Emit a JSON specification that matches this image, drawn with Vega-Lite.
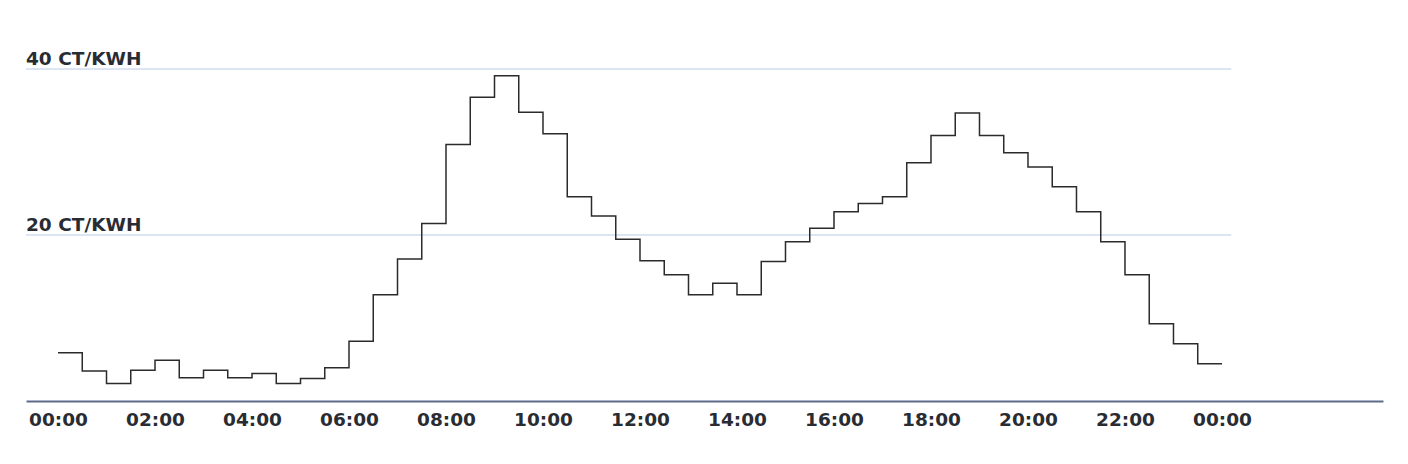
{
  "$schema": "https://vega.github.io/schema/vega-lite/v6.json",
  "width": 1357,
  "height": 332,
  "autosize": {"type": "none"},
  "padding": {"left": 26, "top": 69, "right": 25, "bottom": 63},
  "background": "#ffffff",
  "config": {
    "view": {"stroke": null},
    "axis": {
      "labelFont": "DejaVu Sans",
      "labelFontWeight": "bold",
      "labelFontSize": 18.5,
      "labelColor": "#2a2c33",
      "domainColor": "#5d6b8a",
      "domainWidth": 2,
      "ticks": false,
      "tickSize": 0,
      "grid": false,
      "labelFlush": false,
      "labelOverlap": false,
      "labelBound": false
    }
  },
  "datasets": {
    "prices": [
      {"hour": 0, "price": 5.8}, {"hour": 0.5, "price": 3.6}, {"hour": 1, "price": 2.1}, {"hour": 1.5, "price": 3.7},
      {"hour": 2, "price": 4.9}, {"hour": 2.5, "price": 2.8}, {"hour": 3, "price": 3.7}, {"hour": 3.5, "price": 2.8},
      {"hour": 4, "price": 3.3}, {"hour": 4.5, "price": 2.1}, {"hour": 5, "price": 2.7}, {"hour": 5.5, "price": 4.0},
      {"hour": 6, "price": 7.2}, {"hour": 6.5, "price": 12.8}, {"hour": 7, "price": 17.1}, {"hour": 7.5, "price": 21.4},
      {"hour": 8, "price": 30.9}, {"hour": 8.5, "price": 36.6}, {"hour": 9, "price": 39.2}, {"hour": 9.5, "price": 34.8},
      {"hour": 10, "price": 32.2}, {"hour": 10.5, "price": 24.6}, {"hour": 11, "price": 22.3}, {"hour": 11.5, "price": 19.5},
      {"hour": 12, "price": 16.9}, {"hour": 12.5, "price": 15.2}, {"hour": 13, "price": 12.8}, {"hour": 13.5, "price": 14.2},
      {"hour": 14, "price": 12.8}, {"hour": 14.5, "price": 16.8}, {"hour": 15, "price": 19.2}, {"hour": 15.5, "price": 20.8},
      {"hour": 16, "price": 22.8}, {"hour": 16.5, "price": 23.8}, {"hour": 17, "price": 24.6}, {"hour": 17.5, "price": 28.7},
      {"hour": 18, "price": 32.0}, {"hour": 18.5, "price": 34.7}, {"hour": 19, "price": 32.0}, {"hour": 19.5, "price": 29.9},
      {"hour": 20, "price": 28.2}, {"hour": 20.5, "price": 25.8}, {"hour": 21, "price": 22.8}, {"hour": 21.5, "price": 19.2},
      {"hour": 22, "price": 15.2}, {"hour": 22.5, "price": 9.3}, {"hour": 23, "price": 6.9}, {"hour": 23.5, "price": 4.5},
      {"hour": 24, "price": 4.5}
    ],
    "grid": [
      {"v": 20, "label": "20 CT/KWH"},
      {"v": 40, "label": "40 CT/KWH"}
    ]
  },
  "layer": [
    {
      "data": {"name": "grid"},
      "mark": {"type": "rule", "color": "#dde4f3", "strokeWidth": 2},
      "encoding": {
        "x": {
          "datum": -0.66,
          "type": "quantitative",
          "scale": {"domain": [-0.66, 27.32], "nice": false, "zero": false},
          "axis": {
            "title": null,
            "values": [0, 2, 4, 6, 8, 10, 12, 14, 16, 18, 20, 22, 24],
            "labelExpr": "(datum.value % 24 < 10 ? '0' : '') + (datum.value % 24) + ':00'",
            "labelBaseline": "alphabetic",
            "labelPadding": 24
          }
        },
        "x2": {"datum": 24.19},
        "y": {"field": "v", "type": "quantitative", "scale": {"domain": [0, 40], "nice": false}, "axis": null}
      }
    },
    {
      "data": {"name": "prices"},
      "mark": {"type": "line", "interpolate": "step-after", "color": "#2b2b2b", "strokeWidth": 1.5},
      "encoding": {
        "x": {
          "field": "hour",
          "type": "quantitative",
          "scale": {"domain": [-0.66, 27.32], "nice": false, "zero": false},
          "axis": {
            "title": null,
            "values": [0, 2, 4, 6, 8, 10, 12, 14, 16, 18, 20, 22, 24],
            "labelExpr": "(datum.value % 24 < 10 ? '0' : '') + (datum.value % 24) + ':00'",
            "labelBaseline": "alphabetic",
            "labelPadding": 24
          }
        },
        "y": {
          "field": "price",
          "type": "quantitative",
          "scale": {"domain": [0, 40], "nice": false},
          "axis": null
        }
      }
    },
    {
      "data": {"name": "grid"},
      "mark": {
        "type": "text",
        "align": "left",
        "baseline": "alphabetic",
        "dy": -4,
        "font": "DejaVu Sans",
        "fontWeight": "bold",
        "fontSize": 18.5,
        "color": "#2a2c33"
      },
      "encoding": {
        "x": {
          "datum": -0.66,
          "type": "quantitative",
          "axis": {
            "title": null,
            "values": [0, 2, 4, 6, 8, 10, 12, 14, 16, 18, 20, 22, 24],
            "labelExpr": "(datum.value % 24 < 10 ? '0' : '') + (datum.value % 24) + ':00'",
            "labelBaseline": "alphabetic",
            "labelPadding": 24
          }
        },
        "y": {"field": "v", "type": "quantitative", "axis": null},
        "text": {"field": "label"}
      }
    }
  ]
}
